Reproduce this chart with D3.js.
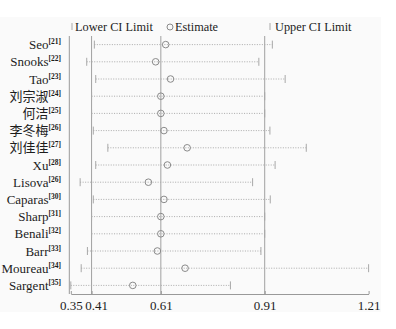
<!DOCTYPE html>
<html>
<head>
<meta charset="utf-8">
<script src="https://cdn.jsdelivr.net/npm/d3@7"></script>
<style>
  body { margin: 0; background: #fff; }
  svg text { font-family: "Liberation Serif", "Times New Roman", Times, "Noto Sans CJK SC", serif; fill: #1c1c1c; }
</style>
</head>
<body>
<svg id="forest"></svg>
<script>
// study names and reference numbers
var studies = ['Seo', 'Snooks', 'Tao', '刘宗淑', '何洁', '李冬梅', '刘佳佳', 'Xu', 'Lisova', 'Caparas', 'Sharp', 'Benali', 'Barr', 'Moureau', 'Sargent'];
var refs = ['21', '22', '23', '24', '25', '26', '27', '28', '26', '30', '31', '32', '33', '34', '35'];

// estimate and CI limits
var estimate = [0.624, 0.595, 0.638, 0.61, 0.61, 0.619, 0.686, 0.629, 0.574, 0.619, 0.61, 0.61, 0.600, 0.680, 0.529];
var lowerCI  = [0.418, 0.396, 0.422, 0.41, 0.41, 0.415, 0.457, 0.422, 0.377, 0.415, 0.41, 0.41, 0.398, 0.380, 0.35];
var upperCI  = [0.932, 0.893, 0.969, 0.91, 0.91, 0.925, 1.030, 0.940, 0.875, 0.926, 0.91, 0.91, 0.899, 1.21, 0.811];

// x axis ticks and pooled reference lines
var tickValues = [0.35, 0.41, 0.61, 0.91, 1.21];
var refLines = [0.41, 0.61, 0.91];

var W = 396, H = 329;
var plotTop = 36, plotBottom = 294;

var svg = d3.select('#forest')
  .attr('width', W)
  .attr('height', H);

// light panel behind the chart
svg.append('rect')
  .attr('x', 0).attr('y', 17)
  .attr('width', 381).attr('height', 295)
  .attr('fill', '#fafafa');

var x = d3.scaleLinear().domain([0.35, 1.21]).range([70.8, 368.6]);
var y = d3.scaleBand().domain(studies).range([plotTop, plotBottom]);

var rows = studies.map(function (s, i) {
  return { name: s, ref: refs[i], est: estimate[i], lo: lowerCI[i], hi: upperCI[i] };
});

function cy(d) { return y(d.name) + y.bandwidth() / 2; }

// reference lines
svg.selectAll('.ref')
  .data(refLines)
  .enter()
  .append('line')
  .attr('x1', function (d) { return x(d); })
  .attr('x2', function (d) { return x(d); })
  .attr('y1', plotTop)
  .attr('y2', plotBottom)
  .attr('stroke', '#a0a0a0')
  .attr('stroke-width', 1);

// dotted CI lines
svg.selectAll('.ci')
  .data(rows)
  .enter()
  .append('line')
  .attr('x1', function (d) { return x(d.lo); })
  .attr('x2', function (d) { return x(d.hi); })
  .attr('y1', cy)
  .attr('y2', cy)
  .attr('stroke', '#aaaaaa')
  .attr('stroke-width', 1)
  .attr('stroke-dasharray', '1,1.5');

// CI end ticks
['lo', 'hi'].forEach(function (k) {
  svg.selectAll('.tick-' + k)
    .data(rows)
    .enter()
    .append('line')
    .attr('x1', function (d) { return x(d[k]); })
    .attr('x2', function (d) { return x(d[k]); })
    .attr('y1', function (d) { return cy(d) - 4; })
    .attr('y2', function (d) { return cy(d) + 4; })
    .attr('stroke', '#a8a8a8')
    .attr('stroke-width', 1);
});

// estimate circles
svg.selectAll('.est')
  .data(rows)
  .enter()
  .append('circle')
  .attr('cx', function (d) { return x(d.est); })
  .attr('cy', cy)
  .attr('r', 3.3)
  .attr('fill', 'none')
  .attr('stroke', '#8a8a8a')
  .attr('stroke-width', 1);

// axes
var xAxis = svg.append('g')
  .attr('transform', 'translate(0,' + plotBottom + ')')
  .call(d3.axisBottom(x).tickValues(tickValues).tickSizeInner(-3).tickSizeOuter(0).tickPadding(7).tickFormat(d3.format('.2f')));
xAxis.attr('font-family', null);
xAxis.select('.domain').attr('stroke', '#999');
xAxis.selectAll('.tick line').attr('stroke', '#999');
xAxis.selectAll('.tick text')
  .attr('font-size', 13)
  .attr('fill', '#1c1c1c')
  .attr('dx', function (d) { return d === 0.41 ? 4.5 : 0; });

svg.append('line')
  .attr('x1', x(0.35) - 1.5).attr('x2', x(0.35) - 1.5)
  .attr('y1', plotTop).attr('y2', plotBottom)
  .attr('stroke', '#999');

// row labels with superscript references
var labels = svg.selectAll('.label')
  .data(rows)
  .enter()
  .append('text')
  .attr('x', 61)
  .attr('y', function (d) { return cy(d) + 4.5; })
  .attr('text-anchor', 'end')
  .attr('font-size', 13);
labels.append('tspan').text(function (d) { return d.name; });
labels.append('tspan')
  .attr('dy', -5)
  .attr('font-size', 7.5)
  .attr('font-weight', 'bold')
  .text(function (d) { return '[' + d.ref + ']'; });

// legend
var ly = 27;
svg.append('line').attr('x1', 72).attr('x2', 72).attr('y1', ly - 4).attr('y2', ly + 3).attr('stroke', '#aaa');
svg.append('text').attr('x', 75).attr('y', ly + 4).attr('font-size', 12.3).text('Lower CI Limit');
svg.append('circle').attr('cx', 170).attr('cy', ly).attr('r', 3).attr('fill', 'none').attr('stroke', '#8a8a8a');
svg.append('text').attr('x', 175).attr('y', ly + 4).attr('font-size', 12.3).text('Estimate');
svg.append('line').attr('x1', 270).attr('x2', 270).attr('y1', ly - 4).attr('y2', ly + 3).attr('stroke', '#aaa');
svg.append('text').attr('x', 275).attr('y', ly + 4).attr('font-size', 12.3).text('Upper CI Limit');
</script>
</body>
</html>
